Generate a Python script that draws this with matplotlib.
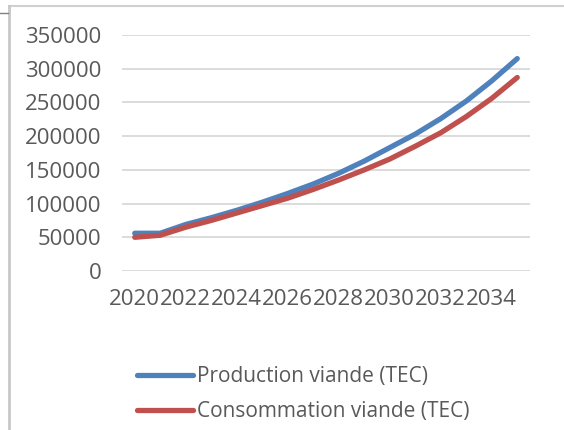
import matplotlib
matplotlib.use("Agg")
import matplotlib.pyplot as plt
from matplotlib.lines import Line2D

# yearly series (TEC)
years = list(range(2020, 2036))
production = [56000, 56000, 69000, 79000, 90000, 102000, 115000, 129000,
              145000, 163000, 183000, 203000, 226000, 252000, 282000, 315000]
consommation = [50000, 53000, 65000, 75000, 86000, 97000, 108000, 121000,
                135000, 150000, 166000, 185000, 205000, 229000, 256000, 287000]
y_ticks = [0, 50000, 100000, 150000, 200000, 250000, 300000, 350000]

blue = "#4F81BD"
red = "#C0504D"
txt = "#595959"

plt.rcParams['font.family'] = ['Open Sans', 'DejaVu Sans']

fig = plt.figure(figsize=(5.64, 4.30), dpi=100)
ax = fig.add_axes([122 / 564, 1 - 271 / 430, 408 / 564, 236 / 430])

x = list(range(len(years)))
ax.plot(x, production, color=blue, lw=3.8, solid_capstyle='round',
        label="Production viande (TEC)", zorder=3)
ax.plot(x, consommation, color=red, lw=3.8, solid_capstyle='round',
        label="Consommation viande (TEC)", zorder=4)

ax.set_xlim(-0.5, len(years) - 0.5)
ax.set_ylim(0, 350000)
ax.set_yticks(y_ticks)
ax.set_yticklabels([str(v) for v in y_ticks])
ax.set_xticks(x[::2])
ax.set_xticklabels([str(y) for y in years[::2]])
ax.grid(axis='y', color='#d9d9d9', lw=1.3, zorder=0)
ax.set_axisbelow(True)
for s in ax.spines.values():
    s.set_visible(False)
ax.tick_params(axis='both', length=0, labelsize=16, colors=txt)
ax.tick_params(axis='y', pad=15)
ax.tick_params(axis='x', pad=13)

leg = ax.legend(loc='upper left', bbox_to_anchor=(137 / 564, 1 - 366 / 430),
                bbox_transform=fig.transFigure, frameon=False, fontsize=15,
                handlelength=2.7, handletextpad=0.2, labelspacing=0.68,
                borderpad=0, borderaxespad=0)
for t in leg.get_texts():
    t.set_color(txt)

# chart frame
fig.add_artist(Line2D([9 / 564, 1], [1 - 6 / 430, 1 - 6 / 430],
                      transform=fig.transFigure, color='#d0d0d0', lw=1.5))
fig.add_artist(Line2D([9 / 564, 9 / 564], [0, 1 - 6 / 430],
                      transform=fig.transFigure, color='#c8c8c8', lw=2))
fig.add_artist(Line2D([0, 8 / 564], [1 - 13 / 430, 1 - 13 / 430],
                      transform=fig.transFigure, color='#808080', lw=1))

fig.savefig("out.png", dpi=100)
